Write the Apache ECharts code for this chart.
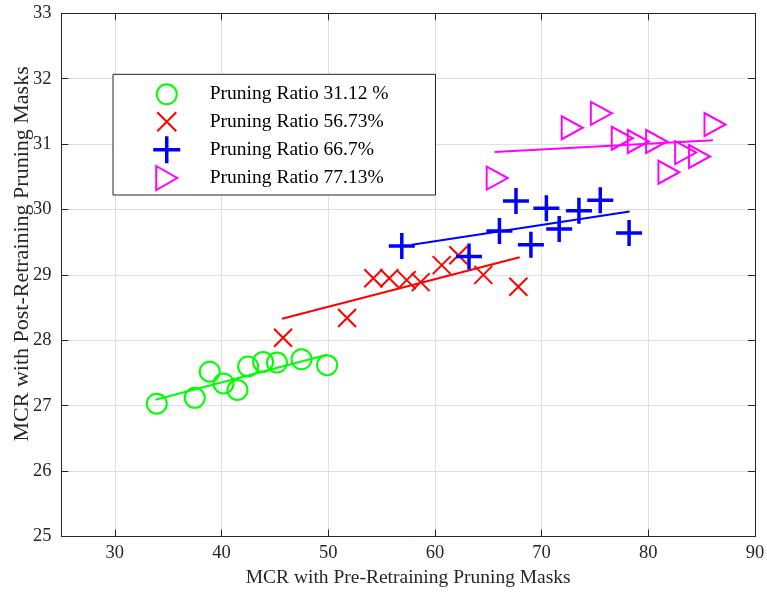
<!DOCTYPE html>
<html>
<head>
<meta charset="utf-8">
<script src="https://cdn.jsdelivr.net/npm/echarts@6/dist/echarts.min.js"></script>
<style>html,body{margin:0;padding:0;background:#fff}#c{width:767px;height:595px}</style>
</head>
<body>
<div id="c"></div>
<script>
// ---- data ----
const seriesNames = ['Pruning Ratio 31.12 %', 'Pruning Ratio 56.73%', 'Pruning Ratio 66.7%', 'Pruning Ratio 77.13%'];
const ratio31 = [[33.94,27.03],[37.5,27.12],[38.9,27.52],[40.2,27.34],[41.5,27.24],[42.5,27.6],[43.9,27.67],[45.2,27.66],[47.5,27.71],[49.9,27.62]];
const ratio56 = [[45.77,28.04],[51.77,28.34],[54.23,28.95],[55.73,28.95],[57.36,28.92],[58.67,28.89],[60.64,29.15],[62.2,29.30],[64.54,29.0],[67.82,28.82]];
const ratio66 = [[56.9,29.44],[63.2,29.28],[66.05,29.67],[67.6,30.13],[69.0,29.46],[70.45,30.02],[71.65,29.7],[73.5,29.98],[75.5,30.14],[78.2,29.64]];
const ratio77 = [[65.84,30.48],[72.87,31.25],[75.6,31.47],[77.56,31.09],[79.06,31.04],[80.78,31.04],[81.93,30.57],[83.5,30.87],[84.8,30.81],[86.25,31.3]];
const fit31 = [[33.8,27.09],[49.9,27.78]];
const fit56 = [[45.67,28.33],[67.95,29.27]];
const fit66 = [[57.85,29.46],[78.25,29.97]];
const fit77 = [[65.6,30.88],[86.06,31.06]];
const xTicks = [30,40,50,60,70,80,90];
const yTicks = [25,26,27,28,29,30,31,32,33];

const FONT = 'Liberation Serif';
const TXT = '#262626';
const colors = ['#00ff00','#ff0000','#0000ff','#ff00ff'];
const symbols = [
  'circle',
  'path://M0,0L10,10M10,0L0,10',
  'path://M5,0L5,10M0,5L10,5',
  'path://M0,0L20,11L0,22Z'
];
const sizes = [20, 18, 26, [21,23]];
const widths = [2, 2, 3.5, 2];
// legend icons with invisible padding to a 27x27 box
const legendIcons = [
  'path://M0,0M27,27M23.5,13.5A10,10,0,1,1,3.5,13.5A10,10,0,1,1,23.5,13.5Z',
  'path://M0,0M27,27M4,4L23,23M23,4L4,23',
  'path://M0,0M27,27M13.5,0L13.5,27M0,13.5L27,13.5',
  'path://M0,0M27,27M3,1.5L24,13.5L3,25.5Z'
];
const pts = [ratio31, ratio56, ratio66, ratio77];
const fits = [fit31, fit56, fit66, fit77];

const series = [];
for (let i = 0; i < 4; i++) {
  series.push({
    name: seriesNames[i], type: 'scatter', data: pts[i],
    symbol: symbols[i], symbolSize: sizes[i],
    itemStyle: {color: 'rgba(0,0,0,0)', borderColor: colors[i], borderWidth: widths[i], opacity: 1},
    emphasis: {disabled: true}, z: 3
  });
}
for (let i = 0; i < 4; i++) {
  series.push({
    name: 'fit' + i, type: 'line', data: fits[i], showSymbol: false, symbol: 'none',
    lineStyle: {color: colors[i], width: 2}, emphasis: {disabled: true}, z: 2
  });
}

const chart = echarts.init(document.getElementById('c'), null, {renderer: 'canvas'});
const axisLineStyle = {show: true, lineStyle: {color: '#262626', width: 1}};
chart.setOption({
  animation: false,
  backgroundColor: '#fff',
  grid: {left: 61.4, right: 12, top: 13.3, bottom: 58.5, containLabel: false, outerBoundsMode: 'none'},
  xAxis: [{
    type: 'value', min: 25, max: 90, interval: 10,
    axisLine: axisLineStyle,
    axisTick: {show: true, inside: true, length: 7, lineStyle: {color: '#262626'}, customValues: xTicks},
    axisLabel: {fontFamily: FONT, fontSize: 18.5, color: TXT, margin: 7, customValues: xTicks},
    splitLine: {show: true, lineStyle: {color: '#e0e0e0', width: 1}},
    name: 'MCR with Pre-Retraining Pruning Masks', nameLocation: 'middle', nameGap: 29,
    nameTextStyle: {fontFamily: FONT, fontSize: 19.5, color: TXT}
  }, {
    type: 'value', min: 25, max: 90, interval: 10, position: 'top',
    axisLine: axisLineStyle,
    axisTick: {show: true, inside: true, length: 7, lineStyle: {color: '#262626'}, customValues: xTicks},
    axisLabel: {show: false}, splitLine: {show: false}
  }],
  yAxis: [{
    type: 'value', min: 25, max: 33, interval: 1,
    axisLine: axisLineStyle,
    axisTick: {show: true, inside: true, length: 7, lineStyle: {color: '#262626'}},
    axisLabel: {fontFamily: FONT, fontSize: 18.5, color: TXT, margin: 10},
    splitLine: {show: true, lineStyle: {color: '#e0e0e0', width: 1}},
    name: 'MCR with Post-Retraining Pruning Masks', nameLocation: 'middle', nameGap: 28, nameMoveOverlap: false,
    nameTextStyle: {fontFamily: FONT, fontSize: 22, color: TXT, padding: [0, 0, 0, 42]}
  }, {
    type: 'value', min: 25, max: 33, interval: 1, position: 'right',
    axisLine: axisLineStyle,
    axisTick: {show: true, inside: true, length: 7, lineStyle: {color: '#262626'}},
    axisLabel: {show: false}, splitLine: {show: false}
  }],
  legend: {
    show: true, orient: 'vertical', left: 113, top: 74.3,
    padding: [5.5, 47, 2.5, 38.5],
    itemWidth: 27, itemHeight: 27, itemGap: -1.6,
    borderColor: '#262626', borderWidth: 1, backgroundColor: '#fff',
    textStyle: {fontFamily: FONT, fontSize: 19.5, color: '#000', padding: [0,0,0,24.5]},
    selectedMode: false,
    data: seriesNames.map((n, i) => ({name: n, icon: legendIcons[i], itemStyle: {borderWidth: widths[i], borderColor: colors[i], color: 'rgba(0,0,0,0)'}}))
  },
  series: series
});
</script>
</body>
</html>
